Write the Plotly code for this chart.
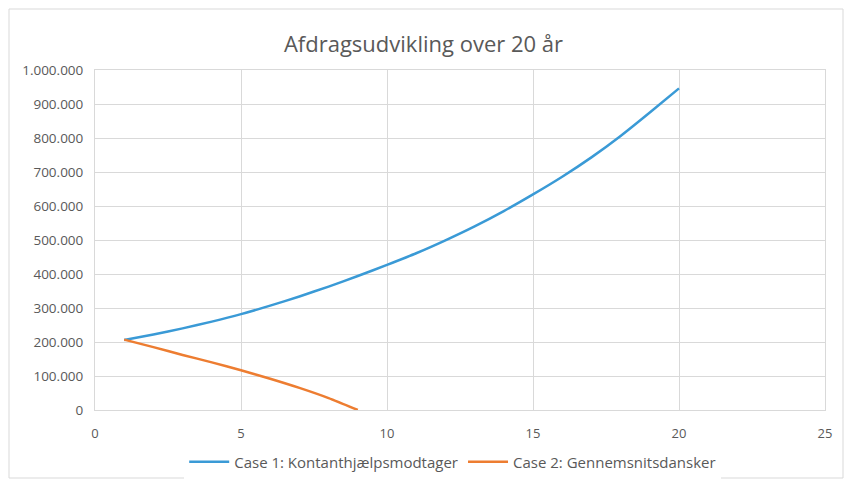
import plotly.graph_objects as go

# Data
years_case1 = list(range(1, 21))
case1_values = [206000, 222000, 240000, 260000, 282000, 307000, 334000, 363000, 394000, 427000,
                461000, 499000, 540000, 585000, 634000, 686000, 743000, 806000, 875000, 946000]
years_case2 = list(range(1, 10))
case2_values = [207000, 185000, 162000, 140000, 117000, 92000, 65000, 35000, 0]

series_names = ["Case 1: Kontanthjælpsmodtager", "Case 2: Gennemsnitsdansker"]
title_text = "Afdragsudvikling over 20 år"
x_ticks = [0, 5, 10, 15, 20, 25]
y_ticks = list(range(0, 1000001, 100000))

font_family = "'Open Sans', Lato, sans-serif"
text_color = "#595959"
grid_color = "#D9D9D9"

fig = go.Figure()
fig.add_trace(go.Scatter(x=years_case1, y=case1_values, mode="lines", name=series_names[0],
                         line=dict(color="#3A9AD6", width=2.5, shape="spline", smoothing=0.6)))
fig.add_trace(go.Scatter(x=years_case2, y=case2_values, mode="lines", name=series_names[1],
                         line=dict(color="#ED7D31", width=2.5, shape="spline", smoothing=0.6)))

L, R, T, B = 95, 22, 70, 71
W, H = 847, 481
pw, ph = W - L - R, H - T - B

def px_to_paper_x(px):
    return (px - L) / pw

def px_to_paper_y(py):
    return (H - B - py) / ph

fig.add_shape(type="rect", xref="paper", yref="paper",
              x0=px_to_paper_x(9), x1=px_to_paper_x(843),
              y0=px_to_paper_y(478), y1=px_to_paper_y(9),
              line=dict(color="#D9D9D9", width=1), fillcolor="rgba(0,0,0,0)", layer="below")

fig.update_layout(
    width=W, height=H,
    margin=dict(l=L, r=R, t=T, b=B, pad=0, autoexpand=False),
    paper_bgcolor="white", plot_bgcolor="white",
    separators=",.",
    title=dict(text=title_text, x=0.5, xanchor="center", y=1 - 44 / H, yanchor="middle",
               font=dict(family=font_family, size=22, color=text_color)),
    font=dict(family=font_family, size=12, color=text_color),
    showlegend=True,
    legend=dict(orientation="h", xref="paper", x=0.49, xanchor="center",
                yref="container", y=1 - 462 / H, yanchor="middle",
                font=dict(family=font_family, size=15, color=text_color),
                itemwidth=40, tracegroupgap=0),
    xaxis=dict(range=[0, 25], tickvals=x_ticks, showgrid=True, gridcolor=grid_color, gridwidth=1,
               zeroline=False, showline=True, linecolor=grid_color, mirror=True, automargin=False,
               ticks="", ticklabelstandoff=11, tickfont=dict(size=13, color=text_color), fixedrange=True),
    yaxis=dict(range=[0, 1000000], tickvals=y_ticks, tickformat=",.0f", showgrid=True,
               gridcolor=grid_color, gridwidth=1, zeroline=False, showline=True, linecolor=grid_color,
               mirror=True, automargin=False, ticks="", ticklabelstandoff=8,
               tickfont=dict(size=13.5, color=text_color), fixedrange=True),
)

fig.write_html("out.html", config={"displayModeBar": False},
               post_script="document.body.style.margin='0';document.body.style.overflow='hidden';")
